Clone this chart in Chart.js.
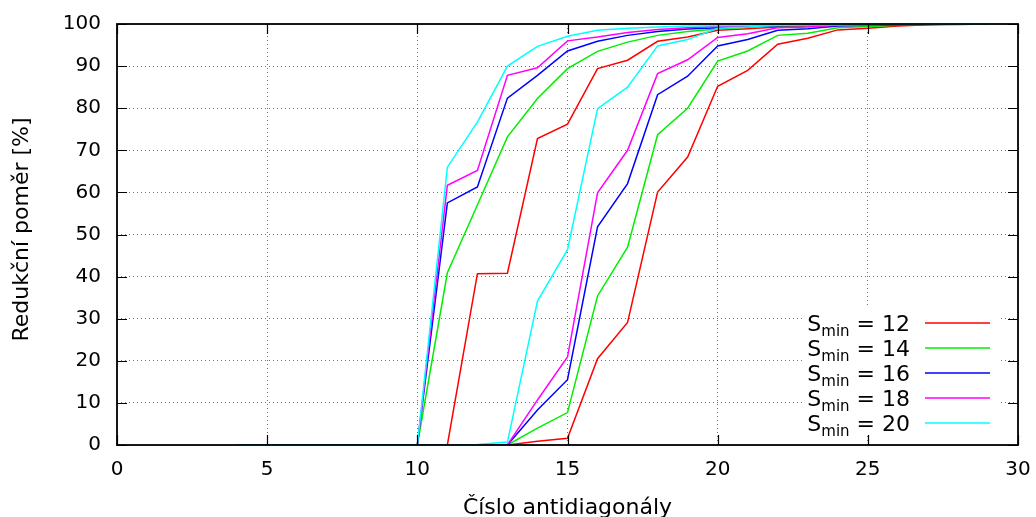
<!DOCTYPE html>
<html>
<head>
<meta charset="utf-8">
<script src="https://cdn.jsdelivr.net/npm/chart.js@4.4.1/dist/chart.umd.min.js"></script>
<style>
  html, body { margin: 0; padding: 0; background: #fff; }
</style>
</head>
<body>
<canvas id="chart" width="1036" height="517"></canvas>
<script>
// Antidiagonal numbers (x axis)
const antidiagonals = [4, 5, 6, 7, 8, 9, 10, 11, 12, 13, 14, 15, 16, 17, 18, 19, 20, 21, 22, 23, 24, 25, 26, 27, 28, 29];

// Left (early) family of curves, one per S_min
const earlyS12 = [0, 0, 0, 0, 0, 0, 0, 0, 40.7, 40.8, 72.8, 76.2, 89.4, 91.4, 95.9, 96.9, 98.5, 98.9, 99.3, 99.5, 99.7, 99.8, 99.9, 100, 100, 100];
const earlyS14 = [0, 0, 0, 0, 0, 0, 0, 40.9, 57.0, 73.2, 82.3, 89.4, 93.5, 95.7, 97.3, 98.2, 98.8, 99.2, 99.5, 99.6, 99.8, 99.9, 99.9, 100, 100, 100];
const earlyS16 = [0, 0, 0, 0, 0, 0, 0, 57.5, 61.3, 82.4, 87.8, 93.6, 95.9, 97.3, 98.2, 98.8, 99.1, 99.4, 99.6, 99.7, 99.8, 99.9, 99.9, 100, 100, 100];
const earlyS18 = [0, 0, 0, 0, 0, 0, 0, 61.7, 65.2, 87.8, 89.6, 96.0, 96.9, 98.0, 98.7, 99.1, 99.4, 99.5, 99.7, 99.8, 99.8, 99.9, 100, 100, 100, 100];
const earlyS20 = [0, 0, 0, 0, 0, 0, 0, 66.0, 76.7, 90.0, 94.7, 97.1, 98.5, 99.0, 99.3, 99.5, 99.6, 99.7, 99.8, 99.8, 99.9, 99.9, 100, 100, 100, 100];

// Right (late) family of curves
const lateS12 = [0, 0, 0, 0, 0, 0, 0, 0, 0, 0, 0.9, 1.6, 20.5, 29.1, 60.1, 68.4, 85.2, 89.0, 95.2, 96.6, 98.6, 99.0, 99.5, 99.8, 99.9, 100];
const lateS14 = [0, 0, 0, 0, 0, 0, 0, 0, 0, 0, 4.0, 7.7, 35.4, 47.0, 73.7, 80.0, 91.2, 93.6, 97.3, 97.8, 99.1, 99.4, 99.7, 99.9, 100, 100];
const lateS16 = [0, 0, 0, 0, 0, 0, 0, 0, 0, 0, 8.3, 15.5, 51.8, 62.1, 83.2, 87.6, 94.8, 96.3, 98.5, 98.9, 99.5, 99.7, 99.8, 99.9, 100, 100];
const lateS18 = [0, 0, 0, 0, 0, 0, 0, 0, 0, 0, 10.7, 20.9, 59.9, 70.0, 88.2, 91.5, 96.8, 97.7, 99.1, 99.3, 99.7, 99.8, 99.9, 100, 100, 100];
const lateS20 = [0, 0, 0, 0, 0, 0, 0, 0, 0.1, 0.7, 34.2, 46.4, 79.9, 85.0, 94.8, 96.3, 99.0, 99.3, 99.7, 99.8, 99.9, 100, 100, 100, 100, 100];

const sMinValues = [12, 14, 16, 18, 20];
const seriesColors = ["#ff0000", "#00ee00", "#0000ff", "#ff00ff", "#00ffff"];
const earlySeries = [earlyS12, earlyS14, earlyS16, earlyS18, earlyS20];
const lateSeries = [lateS12, lateS14, lateS16, lateS18, lateS20];

const xTicks = [0, 5, 10, 15, 20, 25, 30];
const yTicks = [0, 10, 20, 30, 40, 50, 60, 70, 80, 90, 100];
const xTitle = "Číslo antidiagonály";
const yTitle = "Redukční poměr [%]";

const FONT = "'DejaVu Sans', sans-serif";

function toPoints(values) {
  return antidiagonals.map((x, i) => ({ x: x, y: values[i] }));
}

const datasets = [];
sMinValues.forEach((s, i) => {
  [earlySeries[i], lateSeries[i]].forEach(values => {
    datasets.push({
      label: "S_min = " + s,
      data: toPoints(values),
      borderColor: seriesColors[i],
      borderWidth: 1.5,
      pointRadius: 0,
      tension: 0,
      fill: false,
      order: 10 - i
    });
  });
});

// drop the label-overflow padding so the plot area is set by layout.padding only
function noOverflow(scale) {
  scale.paddingTop = 0;
  scale.paddingBottom = 0;
  scale.paddingLeft = 0;
  scale.paddingRight = 0;
}

// gnuplot-like frame: legend box, border, inward mirrored ticks, axis titles
const gnuplotFrame = {
  id: "gnuplotFrame",
  afterDatasetsDraw(chart) {
    const { ctx, chartArea: a, scales } = chart;
    ctx.save();

    // legend
    ctx.fillStyle = "#fff";
    ctx.fillRect(a.right - 216, a.bottom - 137, 199, 128);
    sMinValues.forEach((s, i) => {
      const yLine = a.bottom - 122 + i * 25;
      const rightEdge = a.right - 108;
      ctx.font = "22px " + FONT;
      const wS = ctx.measureText("S").width;
      const rest = " = " + s;
      const wRest = ctx.measureText(rest).width;
      ctx.font = "15px " + FONT;
      const wSub = ctx.measureText("min").width;
      let x0 = rightEdge - wRest - wSub - wS;
      ctx.fillStyle = "#000";
      ctx.textBaseline = "alphabetic";
      ctx.textAlign = "left";
      ctx.font = "22px " + FONT;
      ctx.fillText("S", x0, yLine + 8);
      ctx.font = "15px " + FONT;
      ctx.fillText("min", x0 + wS, yLine + 13);
      ctx.font = "22px " + FONT;
      ctx.fillText(rest, x0 + wS + wSub, yLine + 8);

      ctx.strokeStyle = seriesColors[i];
      ctx.lineWidth = 1.5;
      ctx.beginPath();
      ctx.moveTo(a.right - 93, yLine);
      ctx.lineTo(a.right - 28, yLine);
      ctx.stroke();
    });

    // border
    ctx.strokeStyle = "#000";
    ctx.lineWidth = 1.8;
    ctx.strokeRect(a.left, a.top, a.width, a.height);

    // inward ticks on all four sides
    ctx.lineWidth = 1.2;
    ctx.beginPath();
    xTicks.forEach(v => {
      const px = Math.round(scales.x.getPixelForValue(v)) + 0.5;
      ctx.moveTo(px, a.bottom); ctx.lineTo(px, a.bottom - 10);
      ctx.moveTo(px, a.top); ctx.lineTo(px, a.top + 10);
    });
    yTicks.forEach(v => {
      const py = Math.round(scales.y.getPixelForValue(v)) + 0.5;
      ctx.moveTo(a.left, py); ctx.lineTo(a.left + 10, py);
      ctx.moveTo(a.right, py); ctx.lineTo(a.right - 10, py);
    });
    ctx.stroke();

    // axis titles
    ctx.fillStyle = "#000";
    ctx.font = "22px " + FONT;
    ctx.textAlign = "center";
    ctx.textBaseline = "alphabetic";
    ctx.fillText(xTitle, (a.left + a.right) / 2, 514);
    ctx.translate(28, (a.top + a.bottom) / 2 - 5);
    ctx.rotate(-Math.PI / 2);
    ctx.fillText(yTitle, 0, 0);
    ctx.restore();
  }
};

new Chart(document.getElementById("chart"), {
  type: "line",
  data: { datasets: datasets },
  plugins: [gnuplotFrame],
  options: {
    responsive: false,
    animation: false,
    layout: { padding: { left: 0, right: 18, top: 24, bottom: 0 } },
    plugins: {
      legend: { display: false },
      tooltip: { enabled: false }
    },
    scales: {
      x: {
        type: "linear",
        min: 0,
        max: 30,
        afterBuildTicks: scale => { scale.ticks = xTicks.map(v => ({ value: v })); },
        afterFit: scale => { scale.height = 72; noOverflow(scale); },
        grid: { color: "rgba(0,0,0,0.55)", lineWidth: 1, drawTicks: false },
        border: { display: false, dash: [1, 3] },
        ticks: { color: "#000", padding: 13, font: { family: FONT, size: 20 } }
      },
      y: {
        type: "linear",
        min: 0,
        max: 100,
        afterBuildTicks: scale => { scale.ticks = yTicks.map(v => ({ value: v })); },
        afterFit: scale => { scale.width = 117; noOverflow(scale); },
        grid: { color: "rgba(0,0,0,0.55)", lineWidth: 1, drawTicks: false },
        border: { display: false, dash: [1, 3] },
        ticks: { color: "#000", padding: 16, font: { family: FONT, size: 20 } }
      }
    }
  }
});
</script>
</body>
</html>
